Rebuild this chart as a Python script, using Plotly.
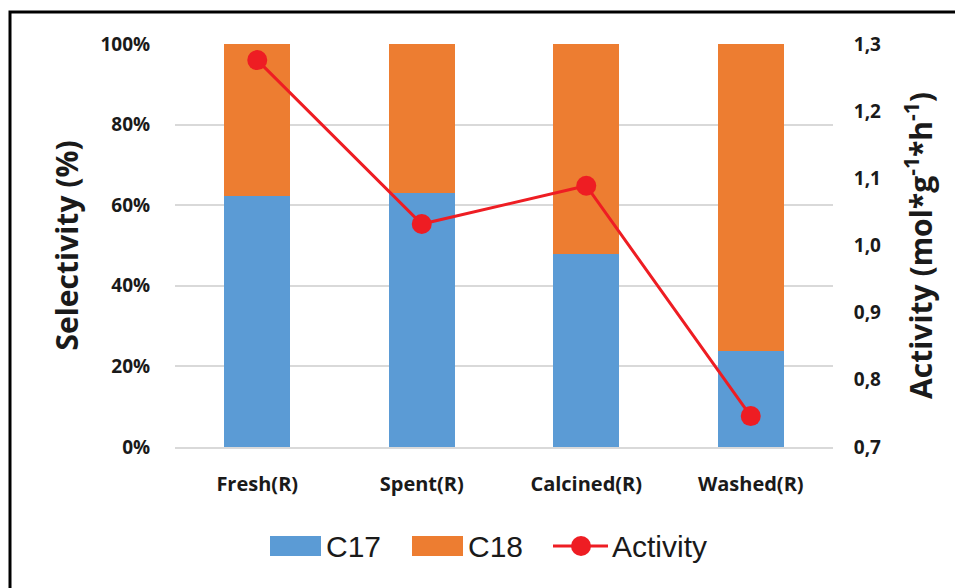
import plotly.graph_objects as go

# Data
samples = ["Fresh(R)", "Spent(R)", "Calcined(R)", "Washed(R)"]
c17 = [62.3, 63.0, 47.9, 23.8]
c18 = [100 - v for v in c17]
activity = [1.276, 1.032, 1.089, 0.746]

sel_ticks = [0, 20, 40, 60, 80, 100]
sel_labels = ["0%", "20%", "40%", "60%", "80%", "100%"]
act_ticks = [0.7, 0.8, 0.9, 1.0, 1.1, 1.2, 1.3]

BLUE = "#5b9bd5"
ORANGE = "#ed7d31"
RED = "#ee1d23"
FONT = "Open Sans"
LEG_FONT = "Liberation Sans"

W, H = 963, 588
# the page body adds an 8px margin, so the figure starts at (8, 8) on screen
OFF = 8
PL, PR, PT, PB = 175, 833, 44, 447  # plot area on screen
L, T = PL - OFF, PT - OFF
R, B = W + OFF - PR, H + OFF - PB
pw, ph = PR - PL, PB - PT


def px(x):
    # screen pixel -> paper x
    return (x - PL) / pw


def py(y):
    # screen pixel -> paper y
    return (PB - y) / ph


fig = go.Figure()

fig.add_trace(go.Bar(x=samples, y=c17, name="C17", width=0.4,
                     marker=dict(color=BLUE, line=dict(width=0))))
fig.add_trace(go.Bar(x=samples, y=c18, name="C18", width=0.4,
                     marker=dict(color=ORANGE, line=dict(width=0))))
fig.add_trace(go.Scatter(x=samples, y=activity, name="Activity", yaxis="y2",
                         mode="lines+markers",
                         line=dict(color=RED, width=3),
                         marker=dict(color=RED, size=20)))

bold = dict(family=FONT, weight="bold", color="#1a1a1a")

fig.update_layout(
    width=W, height=H,
    margin=dict(l=L, r=R, t=T, b=B),
    barmode="stack",
    plot_bgcolor="white",
    paper_bgcolor="white",
    separators=",.",
    font=dict(family=FONT, color="#1a1a1a"),
    showlegend=False,
    xaxis=dict(showgrid=False, showline=True, linecolor="#d9d9d9", linewidth=2,
               automargin=False,
               tickfont=dict(size=20, **bold),
               ticks="outside", ticklen=18, tickcolor="rgba(0,0,0,0)"),
    yaxis=dict(range=[0, 100], tickvals=sel_ticks, ticktext=sel_labels,
               showgrid=True, gridcolor="#d9d9d9", gridwidth=2, zeroline=False,
               automargin=False,
               tickfont=dict(size=19, **bold),
               ticks="outside", ticklen=20, tickcolor="rgba(0,0,0,0)",
               title=dict(text="Selectivity (%)", font=dict(size=30, **bold), standoff=12)),
    yaxis2=dict(range=[0.7, 1.3], tickvals=act_ticks, tickformat=".1f",
                overlaying="y", side="right", showgrid=False, zeroline=False,
                automargin=False,
                tickfont=dict(size=19, **bold),
                ticks="outside", ticklen=16, tickcolor="rgba(0,0,0,0)",
                title=dict(text="Activity (mol*g<sup>-1</sup>*h<sup>-1</sup>)",
                           font=dict(size=30, **bold), standoff=30)),
)

# legend drawn by hand to get the wide Excel-style swatches
ly = 546
for x0, color, label in [(270, BLUE, "C17"), (412, ORANGE, "C18")]:
    fig.add_shape(type="rect", xref="paper", yref="paper",
                  x0=px(x0), x1=px(x0 + 51), y0=py(ly + 10), y1=py(ly - 10),
                  fillcolor=color, line=dict(width=0))
    fig.add_annotation(xref="paper", yref="paper", x=px(x0 + 54), y=py(ly),
                       xanchor="left", yanchor="middle", showarrow=False, text=label,
                       font=dict(family=LEG_FONT, size=30, color="#1a1a1a"))
fig.add_shape(type="line", xref="paper", yref="paper",
              x0=px(553), x1=px(608), y0=py(ly), y1=py(ly),
              line=dict(color=RED, width=3))
fig.add_shape(type="circle", xref="paper", yref="paper",
              x0=px(571), x1=px(591), y0=py(ly + 10), y1=py(ly - 10),
              fillcolor=RED, line=dict(width=0))
fig.add_annotation(xref="paper", yref="paper", x=px(610), y=py(ly),
                   xanchor="left", yanchor="middle", showarrow=False, text="Activity",
                   font=dict(family=LEG_FONT, size=30, color="#1a1a1a"))

# outer frame of the original figure (runs off the right and bottom edges)
fig.add_shape(type="rect", xref="paper", yref="paper",
              x0=px(10), x1=px(975), y0=py(600), y1=py(12),
              line=dict(color="black", width=3), fillcolor="rgba(0,0,0,0)", layer="above")

fig.write_html("out.html")
